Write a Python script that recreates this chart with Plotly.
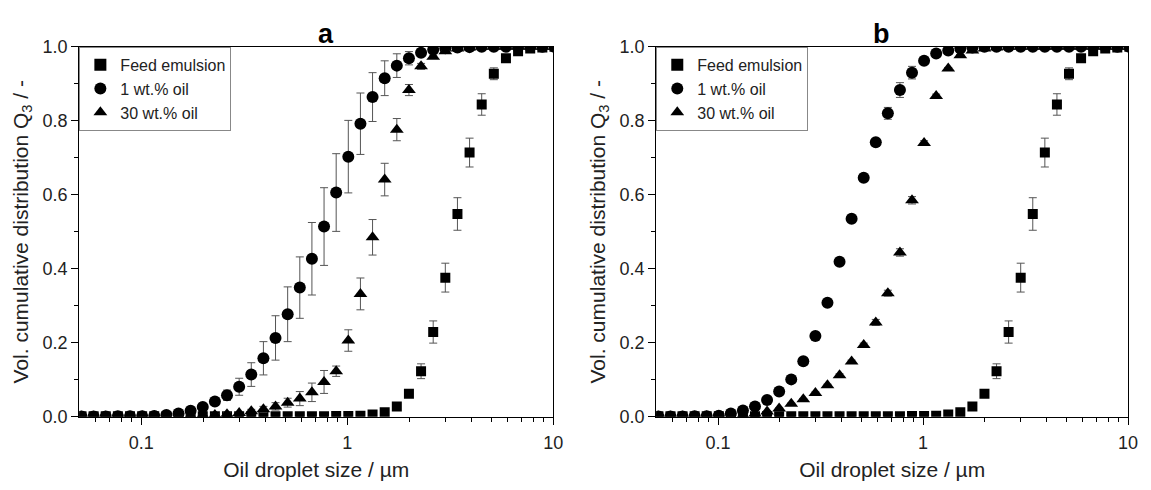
import plotly.graph_objects as go

# Particle size channels (µm)
sizes = [0.0512, 0.05864, 0.06715, 0.07691, 0.08808, 0.1009, 0.1155, 0.1323, 0.1515, 0.1735,
         0.1987, 0.2276, 0.2606, 0.2985, 0.3418, 0.3915, 0.4483, 0.5135, 0.5881, 0.6735,
         0.7713, 0.8833, 1.0116, 1.1585, 1.3268, 1.5195, 1.7402, 1.9929, 2.2823, 2.6138,
         2.9934, 3.4281, 3.9259, 4.4961, 5.1491, 5.8968, 6.7532, 7.734, 8.8572, 10.1435]

# Feed emulsion (same in both panels)
feed = [0.001, 0.001, 0.001, 0.001, 0.001, 0.001, 0.001, 0.001, 0.001, 0.001,
        0.001, 0.001, 0.001, 0.001, 0.001, 0.001, 0.001, 0.001, 0.001, 0.001,
        0.001, 0.002, 0.002, 0.003, 0.006, 0.012, 0.028, 0.062, 0.123, 0.229,
        0.376, 0.548, 0.714, 0.844, 0.927, 0.969, 0.988, 0.995, 0.998, 1.0]
feed_err = [0, 0, 0, 0, 0, 0, 0, 0, 0, 0,
            0, 0, 0, 0, 0, 0, 0, 0, 0, 0,
            0, 0, 0, 0, 0.001, 0.002, 0.003, 0.006, 0.02, 0.03,
            0.039, 0.044, 0.039, 0.029, 0.016, 0.006, 0.002, 0, 0, 0]

# Panel a
a_1wt = [0.0005, 0.0005, 0.0005, 0.001, 0.001, 0.001, 0.002, 0.005, 0.009, 0.016,
         0.026, 0.041, 0.058, 0.081, 0.114, 0.158, 0.213, 0.277, 0.349, 0.427,
         0.514, 0.606, 0.703, 0.792, 0.864, 0.915, 0.949, 0.969, 0.984, 0.992,
         0.996, 0.998, 0.999, 1.0, 1.0, 1.0, 1.0, 1.0, 1.0, 1.0]
a_1wt_err = [0, 0, 0, 0, 0, 0.001, 0.001, 0.002, 0.003, 0.004,
             0.006, 0.008, 0.014, 0.023, 0.032, 0.045, 0.06, 0.074, 0.083, 0.098,
             0.105, 0.105, 0.098, 0.083, 0.066, 0.047, 0.032, 0.018, 0.008, 0.004,
             0.002, 0, 0, 0, 0, 0, 0, 0, 0, 0]
a_30wt = [0.0005, 0.0005, 0.0005, 0.0005, 0.0005, 0.001, 0.001, 0.002, 0.002, 0.003,
          0.004, 0.005, 0.007, 0.01, 0.015, 0.02, 0.028, 0.038, 0.049, 0.066,
          0.094, 0.123, 0.206, 0.332, 0.485, 0.641, 0.776, 0.883, 0.947, 0.973,
          0.988, 0.995, 0.998, 1.0, 1.0, 1.0, 1.0, 1.0, 1.0, 1.0]
a_30wt_err = [0, 0, 0, 0, 0, 0, 0, 0, 0, 0.001,
              0.001, 0.002, 0.003, 0.004, 0.005, 0.008, 0.01, 0.012, 0.019, 0.025,
              0.031, 0.014, 0.029, 0.043, 0.048, 0.044, 0.03, 0.015, 0.008, 0.004,
              0.002, 0, 0, 0, 0, 0, 0, 0, 0, 0]

# Panel b
b_1wt = [0.0005, 0.0005, 0.0005, 0.001, 0.001, 0.003, 0.009, 0.017, 0.028, 0.045,
         0.068, 0.101, 0.15, 0.218, 0.308, 0.419, 0.535, 0.646, 0.742, 0.82,
         0.883, 0.93, 0.962, 0.982, 0.99, 0.995, 0.998, 1.0, 1.0, 1.0,
         1.0, 1.0, 1.0, 1.0, 1.0, 1.0, 1.0, 1.0, 1.0, 1.0]
b_1wt_err = [0, 0, 0, 0, 0, 0, 0.001, 0.001, 0.002, 0.002,
             0.002, 0.002, 0.002, 0.003, 0.003, 0.003, 0.004, 0.005, 0.006, 0.016,
             0.02, 0.017, 0.008, 0.004, 0.002, 0, 0, 0, 0, 0,
             0, 0, 0, 0, 0, 0, 0, 0, 0, 0]
b_30wt = [0.0005, 0.0005, 0.0005, 0.0005, 0.001, 0.001, 0.002, 0.004, 0.008, 0.014,
          0.022, 0.035, 0.047, 0.064, 0.085, 0.112, 0.149, 0.194, 0.255, 0.334,
          0.444, 0.585, 0.74, 0.867, 0.941, 0.977, 0.99, 0.995, 0.998, 1.0,
          1.0, 1.0, 1.0, 1.0, 1.0, 1.0, 1.0, 1.0, 1.0, 1.0]
b_30wt_err = [0, 0, 0, 0, 0, 0, 0, 0, 0.001, 0.001,
              0.002, 0.002, 0.002, 0.003, 0.003, 0.004, 0.004, 0.005, 0.008, 0.008,
              0.01, 0.01, 0.006, 0.005, 0.003, 0.002, 0, 0, 0, 0,
              0, 0, 0, 0, 0, 0, 0, 0, 0, 0]

series_names = ["Feed emulsion", "1 wt.% oil", "30 wt.% oil"]
panel_titles = ["a", "b"]
x_tick_vals = [0.1, 1, 10]
x_tick_text = ["0.1", "1", "10"]
x_minor_vals = [0.06, 0.07, 0.08, 0.09, 0.2, 0.3, 0.4, 0.5, 0.6, 0.7, 0.8, 0.9,
                2, 3, 4, 5, 6, 7, 8, 9]
x_title = "Oil droplet size / µm"
y_title = "Vol. cumulative distribution Q<sub>3</sub> / -"

FONT = "Liberation Sans, Arial, sans-serif"
OFF = 8  # page body margin
W, H = 1151 - OFF, 490 - OFF


def fx(px):
    return (px - OFF) / W


def fy(py):
    return 1 - (py - OFF) / H


dom_x = [[fx(80), fx(558)], [fx(662), fx(1138)]]
dom_y = [fy(424), fy(38)]

symbols = ["square", "circle", "triangle-up"]
msizes = [10, 12, 12]

fig = go.Figure()

panels = [
    [(feed, feed_err), (a_1wt, a_1wt_err), (a_30wt, a_30wt_err)],
    [(feed, feed_err), (b_1wt, b_1wt_err), (b_30wt, b_30wt_err)],
]

for p, data in enumerate(panels):
    xa = "x" if p == 0 else "x2"
    ya = "y" if p == 0 else "y2"
    lg = "legend" if p == 0 else "legend2"
    for s, (vals, errs) in enumerate(data):
        fig.add_trace(go.Scatter(
            x=sizes, y=vals, mode="markers", name=series_names[s],
            xaxis=xa, yaxis=ya, legend=lg,
            marker=dict(symbol=symbols[s], size=msizes[s], color="black",
                        line=dict(width=0)),
            error_y=dict(type="data", array=errs, visible=True,
                         color="#555555", thickness=1, width=4),
        ))

axis_common = dict(showline=True, linecolor="black", linewidth=1.3, mirror=True,
                   showgrid=False, zeroline=False, ticks="outside", ticklen=7,
                   tickwidth=1.2, tickcolor="black",
                   tickfont=dict(family=FONT, size=18, color="#222"))

for p in range(2):
    sx = "" if p == 0 else "2"
    fig.update_layout({
        "xaxis" + sx: dict(axis_common, type="log", range=[-1.30103, 1],
                           domain=dom_x[p], anchor="y" + sx,
                           tickmode="array", tickvals=x_tick_vals, ticktext=x_tick_text,
                           ticklabelstandoff=3,
                           minor=dict(tickmode="array", tickvals=x_minor_vals,
                                      ticks="outside", ticklen=4, tickcolor="black",
                                      tickwidth=1, showgrid=False),
                           title=dict(text=x_title, standoff=9,
                                      font=dict(family=FONT, size=21, color="#222"))),
        "yaxis" + sx: dict(axis_common, range=[0, 1], domain=dom_y, anchor="x" + sx,
                           tickmode="linear", tick0=0, dtick=0.2, tickformat=".1f",
                           minor=dict(dtick=0.1, ticks="outside", ticklen=4,
                                      tickcolor="black", tickwidth=1, showgrid=False),
                           title=dict(text=y_title, standoff=8,
                                      font=dict(family=FONT, size=21, color="#222"))),
    })

legend_common = dict(bgcolor="white", bordercolor="#888888", borderwidth=1,
                     font=dict(family=FONT, size=16, color="#222"),
                     xanchor="left", yanchor="top", tracegroupgap=0,
                     itemsizing="constant")
fig.update_layout(
    legend=dict(legend_common, x=dom_x[0][0], y=dom_y[1]),
    legend2=dict(legend_common, x=dom_x[1][0], y=dom_y[1]),
)

for p in range(2):
    fig.add_annotation(text="<b>%s</b>" % panel_titles[p], xref="paper", yref="paper",
                       x=(dom_x[p][0] + dom_x[p][1]) / 2, y=dom_y[1], yanchor="bottom",
                       showarrow=False, yshift=-4,
                       font=dict(family=FONT, size=27, color="black"))

fig.update_layout(width=W, height=H, margin=dict(l=0, r=0, t=0, b=0),
                  paper_bgcolor="white", plot_bgcolor="white", showlegend=True)

fig.write_html("out.html")
